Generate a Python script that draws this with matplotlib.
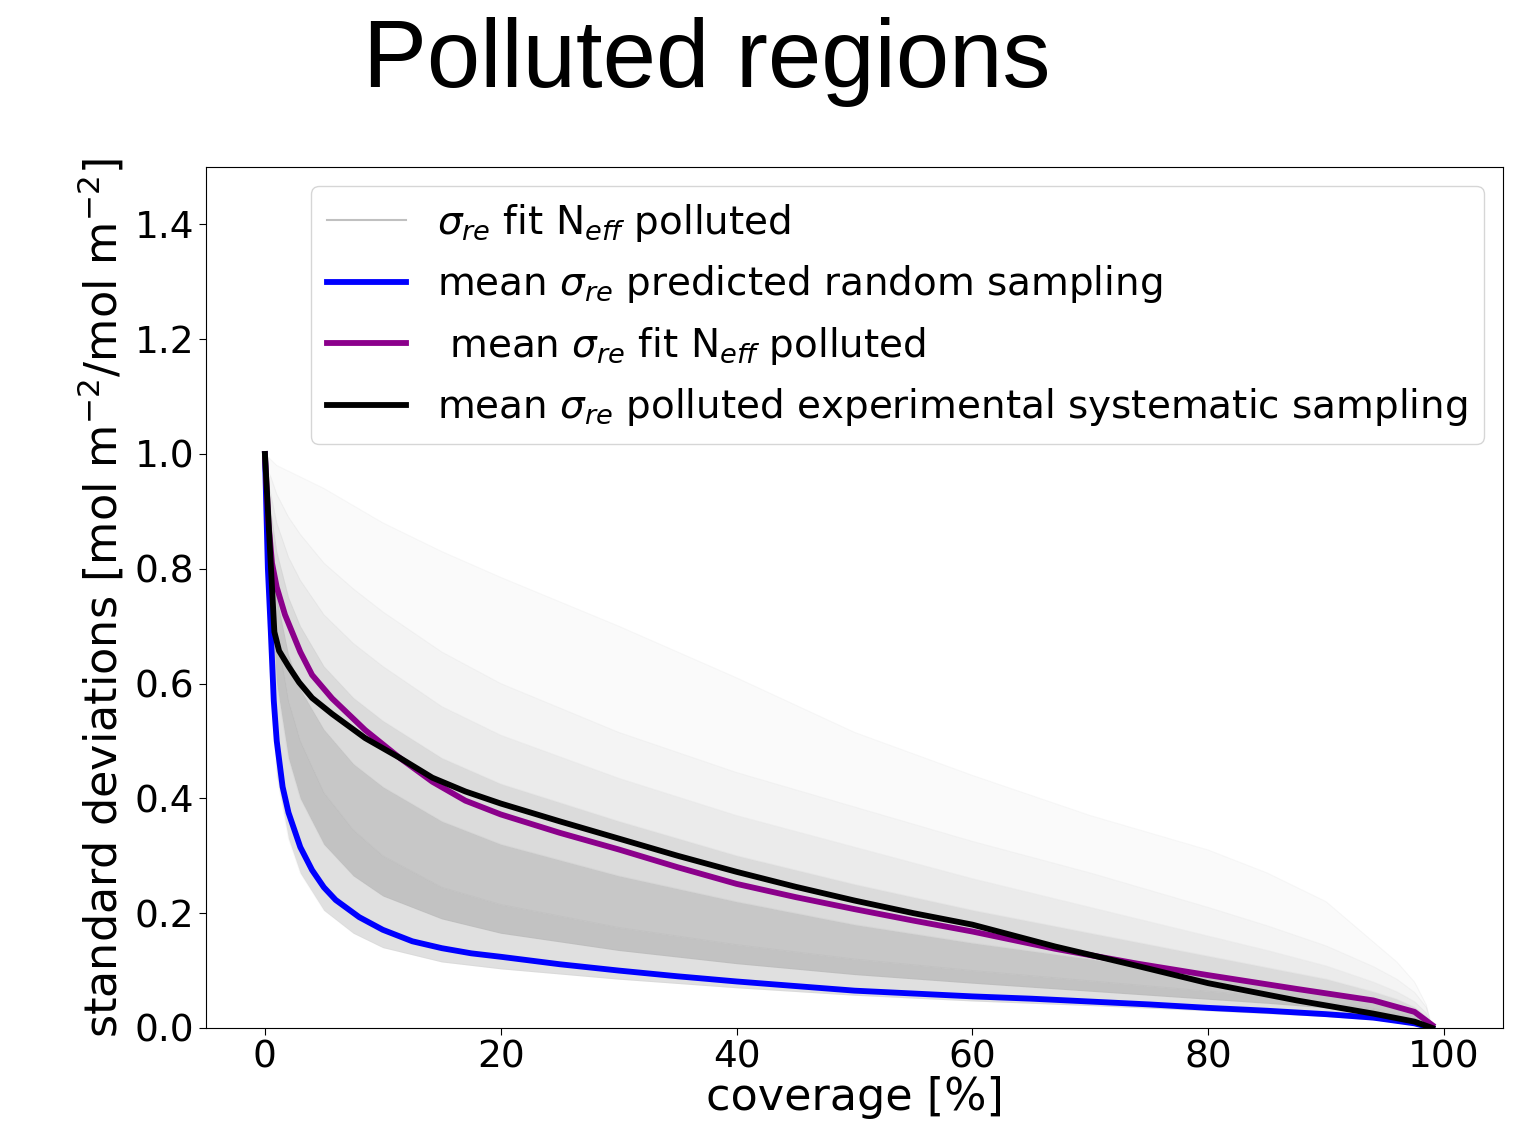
import matplotlib
matplotlib.use("Agg")
import matplotlib.pyplot as plt

# =========================
# Data (coverage in %, sigma normalised)
# =========================
blue_cov = [0, 0.25, 0.5, 0.75, 1, 1.5, 2, 3, 4, 5, 6, 8, 10, 12.5, 15, 17.5, 20,
            25, 30, 35, 40, 45, 50, 55, 60, 65, 70, 75, 80, 85, 90, 94, 97.5, 99]
blue_sigma = [1.0, 0.80, 0.69, 0.57, 0.50, 0.42, 0.375, 0.315, 0.275, 0.245, 0.223,
              0.193, 0.171, 0.151, 0.139, 0.130, 0.124, 0.111, 0.100, 0.090, 0.081,
              0.073, 0.065, 0.060, 0.055, 0.051, 0.046, 0.041, 0.035, 0.030, 0.024,
              0.018, 0.008, 0.0]

purple_cov = [0, 0.3, 0.6, 1, 1.7, 3, 4, 5.7, 8.5, 11.4, 14.2, 17, 20, 25, 30, 35,
              40, 45, 50, 55, 60, 67, 74, 80, 87.5, 94, 97.5, 99]
purple_sigma = [1.0, 0.88, 0.81, 0.768, 0.72, 0.655, 0.615, 0.574, 0.519, 0.471,
                0.429, 0.396, 0.372, 0.340, 0.311, 0.280, 0.251, 0.228, 0.207,
                0.187, 0.168, 0.138, 0.112, 0.092, 0.068, 0.048, 0.028, 0.005]

black_cov = [0, 0.8, 1.2, 2, 2.9, 4, 5.7, 8.5, 11.4, 14.2, 17, 20, 25, 30, 35, 40,
             45, 50, 55, 60, 67, 74, 80, 87.5, 94, 97.5, 99]
black_sigma = [1.0, 0.69, 0.657, 0.630, 0.602, 0.575, 0.547, 0.505, 0.471, 0.436,
               0.412, 0.391, 0.360, 0.330, 0.300, 0.272, 0.246, 0.222, 0.200, 0.180,
               0.142, 0.108, 0.078, 0.048, 0.025, 0.011, 0.0]

# individual N_eff fits: curves traced through the gray cloud, low to high
fan_cov = [0, 0.25, 0.5, 1, 2, 3, 5, 7.5, 10, 15, 20, 30, 40, 50, 60, 70, 80,
           85, 90, 94, 96, 97.5, 98.5, 99]
fan_curves = [
    [1.0, 0.72, 0.60, 0.44, 0.33, 0.27, 0.205, 0.165, 0.14, 0.115, 0.103, 0.085,
     0.070, 0.057, 0.047, 0.039, 0.030, 0.025, 0.020, 0.014, 0.010, 0.006, 0.003, 0.0],
    [1.0, 0.84, 0.75, 0.60, 0.47, 0.40, 0.32, 0.265, 0.23, 0.19, 0.165, 0.135,
     0.112, 0.093, 0.078, 0.064, 0.050, 0.043, 0.035, 0.026, 0.019, 0.013, 0.007, 0.0],
    [1.0, 0.88, 0.81, 0.69, 0.57, 0.50, 0.41, 0.345, 0.30, 0.245, 0.215, 0.175,
     0.145, 0.12, 0.10, 0.082, 0.064, 0.055, 0.045, 0.034, 0.026, 0.018, 0.010, 0.0],
    [1.0, 0.90, 0.85, 0.75, 0.65, 0.59, 0.52, 0.46, 0.42, 0.36, 0.32, 0.265,
     0.22, 0.18, 0.148, 0.12, 0.09, 0.077, 0.062, 0.046, 0.036, 0.026, 0.015, 0.0],
    [1.0, 0.93, 0.90, 0.83, 0.75, 0.70, 0.63, 0.575, 0.535, 0.47, 0.425, 0.36,
     0.30, 0.25, 0.205, 0.165, 0.125, 0.105, 0.085, 0.063, 0.05, 0.036, 0.02, 0.0],
    [1.0, 0.95, 0.93, 0.88, 0.82, 0.78, 0.72, 0.67, 0.63, 0.56, 0.51, 0.435,
     0.37, 0.315, 0.26, 0.21, 0.16, 0.135, 0.108, 0.08, 0.063, 0.046, 0.026, 0.0],
    [1.0, 0.97, 0.96, 0.93, 0.89, 0.86, 0.81, 0.765, 0.725, 0.655, 0.60, 0.515,
     0.445, 0.385, 0.325, 0.27, 0.21, 0.178, 0.143, 0.107, 0.085, 0.062, 0.036, 0.0],
    [1.0, 0.995, 0.99, 0.98, 0.97, 0.96, 0.94, 0.91, 0.88, 0.83, 0.785, 0.70,
     0.61, 0.515, 0.44, 0.37, 0.31, 0.27, 0.22, 0.15, 0.115, 0.08, 0.04, 0.0],
]
# how dark the cloud is between neighbouring traced curves
fan_shade = [0.12, 0.24, 0.22, 0.14, 0.08, 0.045, 0.02]

x_ticks = [0, 20, 40, 60, 80, 100]
y_ticks = [0.0, 0.2, 0.4, 0.6, 0.8, 1.0, 1.2, 1.4]

# =========================
# Figure
# =========================
fig = plt.figure(figsize=(15.36, 11.29), dpi=100)
ax = fig.add_axes([0.1341, 0.0895, 0.8444, 0.7626])

fig.text(0.46, 0.985, "Polluted regions", fontsize=69,
         family=["Liberation Sans", "DejaVu Sans"], ha="center", va="top")

# gray cloud
for lo, hi, a in zip(fan_curves[:-1], fan_curves[1:], fan_shade):
    ax.fill_between(fan_cov, lo, hi, color="black", alpha=a, linewidth=0)

for i, f in enumerate(fan_curves):
    ax.plot(fan_cov, f, color="gray", linewidth=0.8, alpha=0.06,
            label=r"$\sigma_{re}$ fit N$_{eff}$ polluted" if i == 0 else None)

ax.plot(blue_cov, blue_sigma, color="blue", linewidth=4.2,
        label=r"mean $\sigma_{re}$ predicted random sampling")
ax.plot(purple_cov, purple_sigma, color="darkmagenta", linewidth=4.2,
        label=r" mean $\sigma_{re}$ fit N$_{eff}$ polluted")
ax.plot(black_cov, black_sigma, color="black", linewidth=4.2,
        label=r"mean $\sigma_{re}$ polluted experimental systematic sampling")

ax.set_xlim(-5, 105)
ax.set_ylim(0, 1.5)
ax.set_xticks(x_ticks)
ax.set_yticks(y_ticks)
ax.tick_params(labelsize=27, length=5)
ax.set_xlabel("coverage [%]", fontsize=32, labelpad=0)
ax.set_ylabel(r"standard deviations [mol m$^{-2}$/mol m$^{-2}$]", fontsize=32,
              labelpad=6)

leg = ax.legend(loc="upper right", fontsize=28, handlelength=2.05)
leg.legend_handles[0].set_alpha(1)
leg.legend_handles[0].set_color("silver")
leg.legend_handles[0].set_linewidth(1.5)

fig.savefig("out.png", dpi=100)
